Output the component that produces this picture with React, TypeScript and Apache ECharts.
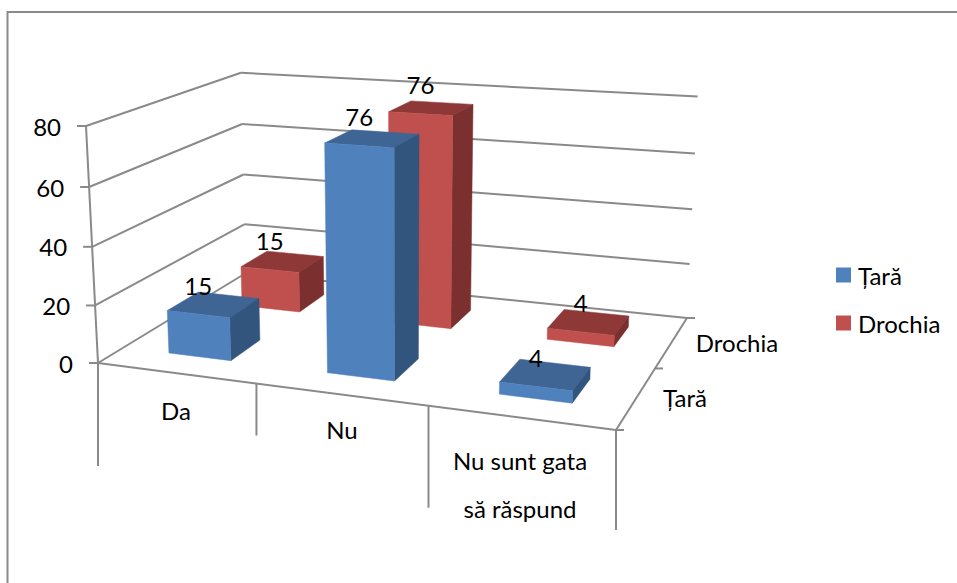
import React, { useEffect, useRef } from "react";
import * as echarts from "echarts";

const categories = ["Da", "Nu", "Nu sunt gata\n\nsă răspund"];
const seriesNames = ["Țară", "Drochia"];
const taraValues = [15, 76, 4];
const drochiaValues = [15, 76, 4];
const valueTicks = [0, 20, 40, 60, 80];

const FONT = "Lato";
const FONT_SIZE = 24;
const AXIS = "#8A8A8A";
const TEXT = "#000000";
const PALETTE = [
  { front: "#4F81BD", top: "#3E6594", side: "#32557D" },
  { front: "#C0504D", top: "#8E3938", side: "#7B2F2E" },
];

// Projected corners of the 3D box, [u, v] = [along categories, into depth]
const FLOOR = { a: [98, 363], b: [616, 430], c: [687, 318], d: [246, 273] };
const TOP_A = [86, 126];
const TOP_C = [698, 99];
const TOP_D = [240, 73];

function buildCamera() {
  const q = FLOOR;
  const [x0, y0] = q.a, [x1, y1] = q.b, [x2, y2] = q.c, [x3, y3] = q.d;
  const dx1 = x1 - x2, dx2 = x3 - x2, sx = x0 - x1 + x2 - x3;
  const dy1 = y1 - y2, dy2 = y3 - y2, sy = y0 - y1 + y2 - y3;
  const det = dx1 * dy2 - dx2 * dy1;
  const g = (sx * dy2 - dx2 * sy) / det;
  const h = (dx1 * sy - sx * dy1) / det;
  // depth term k of the shared denominator, fitted to the top corners
  let sab = 0, saa = 0;
  const fit = (t: number[], f: number[], w: number) => {
    for (let i = 0; i < 2; i++) {
      const a = TOP_A[i] - t[i];
      const b = t[i] * w - f[i] * w + q.a[i] - TOP_A[i];
      sab += a * b;
      saa += a * a;
    }
  };
  fit(TOP_C, q.c, 1 + g + h);
  fit(TOP_D, q.d, 1 + h);
  const k = sab / saa;
  const cx = TOP_A[0] * (k + 1) - x0;
  const cy = TOP_A[1] * (k + 1) - y0;
  return (u: number, v: number, t: number) => {
    const w = g * u + h * v + k * t + 1;
    return [
      ((x1 - x0 + g * x1) * u + (x3 - x0 + h * x3) * v + cx * t + x0) / w,
      ((y1 - y0 + g * y1) * u + (y3 - y0 + h * y3) * v + cy * t + y0) / w,
    ];
  };
}
// u in 0..1 across the category axis, v in 0..1 into the depth axis, t in 0..1 up the value axis
const project = buildCamera();

// The hidden grid is 100 x 100 px, so that the library's scales yield fractions
const GRID = 100;
const BAR = 0.4;

function fractions(api: any, cat: number, value: number) {
  const p = api.coord([cat, value]);
  return { u: p[0] / GRID, t: (GRID - p[1]) / GRID };
}

function poly(points: number[][], fill: string) {
  return {
    type: "polygon",
    shape: { points },
    style: { fill, stroke: fill, lineWidth: 0.5 },
    silent: true,
  };
}
function seg(a: number[], b: number[], w = 2) {
  return {
    type: "line",
    shape: { x1: a[0], y1: a[1], x2: b[0], y2: b[1] },
    style: { stroke: AXIS, lineWidth: w },
    silent: true,
  };
}
function label(text: string, x: number, y: number, align = "center") {
  return {
    type: "text",
    x,
    y,
    style: {
      text,
      fill: TEXT,
      font: `${FONT_SIZE}px ${FONT}`,
      align,
      verticalAlign: "middle",
      lineHeight: 24,
    },
    silent: true,
  };
}

function barSeries(name: string, values: number[], depthIndex: number) {
  const colors = PALETTE[depthIndex];
  return {
    name,
    type: "custom",
    coordinateSystem: "cartesian2d",
    itemStyle: { color: colors.front },
    encode: { x: 0, y: 1 },
    data: values.map((v, i) => [i, v]),
    z: 5 - depthIndex,
    renderItem: (_: any, api: any) => {
      const cat = api.value(0);
      const val = api.value(1);
      const { u: uMid, t } = fractions(api, cat, val);
      const half = (BAR / 2) / categories.length;
      const u0 = uMid - half, u1 = uMid + half;
      const vMid = (depthIndex + 0.5) / seriesNames.length;
      const dHalf = (BAR / 2) / seriesNames.length;
      const v0 = vMid - dHalf, v1 = vMid + dHalf;
      const P = (u: number, v: number, h: number) => project(u, v, h);
      const ftc = P(uMid, v0, t);
      return {
        type: "group",
        children: [
          poly([P(u0, v0, t), P(u1, v0, t), P(u1, v1, t), P(u0, v1, t)], colors.top),
          poly([P(u1, v0, 0), P(u1, v1, 0), P(u1, v1, t), P(u1, v0, t)], colors.side),
          poly([P(u0, v0, 0), P(u1, v0, 0), P(u1, v0, t), P(u0, v0, t)], colors.front),
          label(String(val), ftc[0], ftc[1] - 29),
        ],
      };
    },
  };
}

const frameSeries = {
  type: "custom",
  coordinateSystem: "cartesian2d",
  z: 1,
  silent: true,
  data: valueTicks.map((v) => [0, v]),
  encode: { x: 0, y: 1 },
  renderItem: (_: any, api: any) => {
    const v = api.value(1);
    const { t } = fractions(api, 0, v);
    const a = project(0, 0, t), d = project(0, 1, t), c = project(1, 1, t);
    const children: any[] = [
      seg(a, d),
      seg(d, c),
      seg([a[0] - 9, a[1]], a),
      label(String(v), a[0] - 25, a[1], "right"),
    ];
    if (v === 0) {
      const b = project(1, 0, 0);
      children.push(seg(a, b), seg(b, c), seg(a, project(0, 0, 1)));
      // depth axis ticks
      seriesNames.forEach((_n, i) => {
        const p = project(1, i / seriesNames.length, 0);
        children.push(seg(p, [p[0] + 8, p[1]]));
      });
      children.push(seg(c, [c[0] + 8, c[1]]));
    }
    return { type: "group", children };
  },
};

const CAT_TICK_LEN = [103, 52, 102, 100];
const CAT_LABEL_POS = [[176, 410], [342, 429], [520, 484]];
const DEPTH_LABEL_POS = [[685, 397], [737, 342]];

const categorySeries = {
  type: "custom",
  coordinateSystem: "cartesian2d",
  z: 1,
  silent: true,
  data: categories.map((_, i) => [i, 0]),
  encode: { x: 0, y: 1 },
  renderItem: (_: any, api: any) => {
    const i = api.value(0);
    const text = categories[i];
    const p = project(i / categories.length, 0, 0);
    const children: any[] = [
      seg(p, [p[0], p[1] + CAT_TICK_LEN[i]]),
      label(text, CAT_LABEL_POS[i][0], CAT_LABEL_POS[i][1]),
    ];
    if (i === categories.length - 1) {
      const e = project(1, 0, 0);
      children.push(seg(e, [e[0], e[1] + CAT_TICK_LEN[3]]));
    }
    return { type: "group", children };
  },
};

const depthLabelSeries = {
  type: "custom",
  coordinateSystem: "cartesian2d",
  z: 1,
  silent: true,
  data: seriesNames.map((_, i) => [i, 0]),
  encode: { x: 0, y: 1 },
  renderItem: (_: any, api: any) => {
    const i = api.value(0);
    return label(seriesNames[i], DEPTH_LABEL_POS[i][0], DEPTH_LABEL_POS[i][1]);
  },
};

export default function App() {
  const ref = useRef<HTMLDivElement>(null);
  useEffect(() => {
    const chart = echarts.init(ref.current!, undefined, { renderer: "svg" });
    chart.setOption({
      animation: false,
      backgroundColor: "#ffffff",
      grid: { left: 0, top: 0, width: GRID, height: GRID, show: false },
      xAxis: { type: "category", data: categories, show: false },
      yAxis: { type: "value", min: 0, max: 80, interval: 20, show: false },
      legend: {
        orient: "vertical",
        left: 836,
        top: 263,
        padding: 0,
        itemWidth: 15,
        itemHeight: 15,
        itemGap: 24,
        icon: "rect",
        selectedMode: false,
        data: seriesNames,
        textStyle: { fontFamily: FONT, fontSize: FONT_SIZE, color: TEXT, lineHeight: 24, padding: [0, 0, 0, 2] },
      },
      graphic: [
        {
          type: "polyline",
          shape: { points: [[7.5, 583], [7.5, 12], [957, 12]] },
          style: { stroke: AXIS, lineWidth: 2, fill: "none" },
          silent: true,
        },
      ],
      series: [
        frameSeries,
        categorySeries,
        depthLabelSeries,
        barSeries(seriesNames[1], drochiaValues, 1),
        barSeries(seriesNames[0], taraValues, 0),
      ],
    });
    return () => chart.dispose();
  }, []);
  return (
    <div
      ref={ref}
      style={{ position: "absolute", left: 0, top: 0, width: 957, height: 583 }}
    />
  );
}
